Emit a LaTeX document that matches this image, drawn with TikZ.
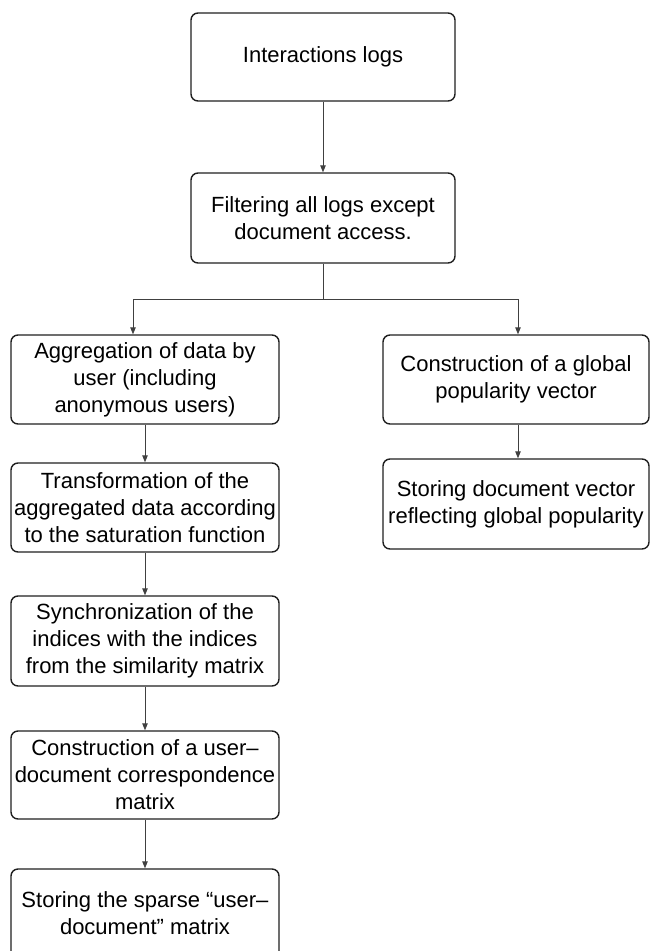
\documentclass[tikz,border=0pt]{standalone}
\usepackage{fontspec}
\setmainfont{Liberation Sans}
\usetikzlibrary{arrows.meta}
\begin{document}
\begin{tikzpicture}[x=1pt,y=-1pt,
  box/.style={draw=black!88, line width=1.4pt, rounded corners=7pt, align=center,
    inner sep=0pt, font=\fontsize{22}{27}\selectfont, text=black},
  arr/.style={draw=black!75, line width=0.9pt, -{Triangle[length=7pt,width=5.5pt]}},
  ln/.style={draw=black!75, line width=0.9pt}]
\useasboundingbox (0,0) rectangle (649,951);
\node[box, minimum width=264pt, minimum height=88pt] (b1) at (323,57) {Interactions logs};
\node[box, minimum width=264pt, minimum height=90pt] (b2) at (323,218) {Filtering all logs except\\document access.};
\node[box, minimum width=268pt, minimum height=89pt] (b3) at (145,379.5) {Aggregation of data by\\user (including\\anonymous users)};
\node[box, minimum width=268pt, minimum height=89pt] (b4) at (145,507.5) {Transformation of the\\aggregated data according\\to the saturation function};
\node[box, minimum width=268pt, minimum height=90pt] (b5) at (145,641) {Synchronization of the\\indices with the indices\\from the similarity matrix};
\node[box, minimum width=268pt, minimum height=88pt] (b6) at (145,775) {Construction of a user–\\document correspondence\\matrix};
\node[box, minimum width=268pt, minimum height=89pt] (b7) at (145,913.5) {Storing the sparse “user–\\document” matrix};
\node[box, minimum width=266pt, minimum height=89pt] (r1) at (516,379.5) {Construction of a global\\popularity vector};
\node[box, minimum width=266pt, minimum height=90pt] (r2) at (516,504) {Storing document vector\\reflecting global popularity};
\coordinate (j) at (323,299);
\coordinate (bl) at (133,299);
\coordinate (br) at (518,299);
\draw[arr] (b1) -- (b2);
\draw[ln] (b2.south) -- (j);
\draw[ln] (bl) -- (br);
\draw[arr] (bl) -- (bl |- b3.north);
\draw[arr] (br) -- (br |- r1.north);
\draw[arr] (b3) -- (b4);
\draw[arr] (b4) -- (b5);
\draw[arr] (b5) -- (b6);
\draw[arr] (b6) -- (b7);
\draw[arr] (r1.south -| br) -- (br |- r2.north);
\end{tikzpicture}
\end{document}
